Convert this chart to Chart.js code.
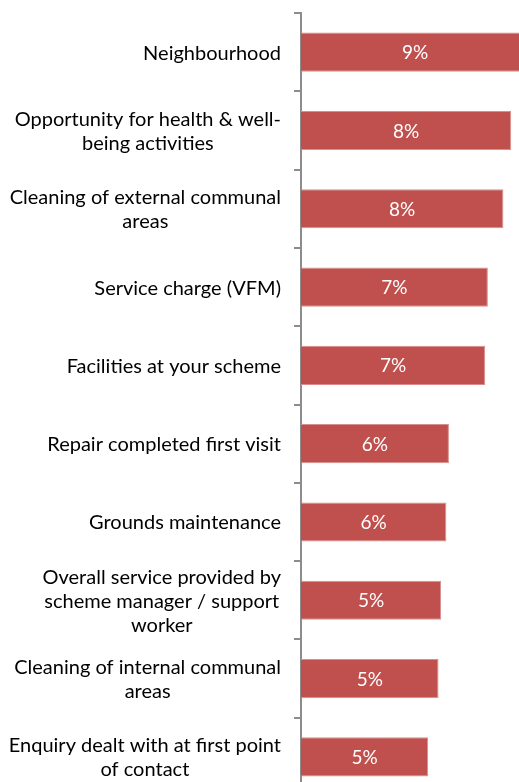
<!DOCTYPE html>
<html>
<head>
<meta charset="utf-8">
<script src="https://cdn.jsdelivr.net/npm/chart.js@4"></script>
<style>
  html, body { margin: 0; padding: 0; background: #fff; overflow: hidden; }
  #wrap { width: 519px; height: 800px; }
</style>
</head>
<body>
<div id="wrap"><canvas id="myChart" width="519" height="800"></canvas></div>
<script>
// 항목 이름 (줄바꿈은 배열로)
const categories = [
  ["Neighbourhood"],
  ["Opportunity for health & well-", "being activities"],
  ["Cleaning of external communal", "areas"],
  ["Service charge (VFM)"],
  ["Facilities at your scheme"],
  ["Repair completed first visit"],
  ["Grounds maintenance"],
  ["Overall service provided by", "scheme manager / support", "worker"],
  ["Cleaning of internal communal", "areas"],
  ["Enquiry dealt with at first point", "of contact"],
];
// 비율 (%)
const values = [8.8, 8.1, 7.8, 7.2, 7.1, 5.7, 5.6, 5.4, 5.3, 4.9];

const FONT = "Lato, 'Open Sans', sans-serif";
const AXIS_GREY = "#8c8c8c";

// 왼쪽 항목 라벨: 블록은 오른쪽 정렬, 각 줄은 가운데 정렬
const categoryLabels = {
  id: "categoryLabels",
  afterDraw(chart) {
    const { ctx, chartArea } = chart;
    const yScale = chart.scales.y;
    const lineH = 24;
    ctx.save();
    ctx.font = "20px " + FONT;
    ctx.fillStyle = "#000";
    ctx.textAlign = "center";
    ctx.textBaseline = "middle";
    categories.forEach((lines, i) => {
      const y = yScale.getPixelForTick(i) + 1;
      const maxW = Math.max(...lines.map((l) => ctx.measureText(l).width));
      const cx = chartArea.left - 20 - maxW / 2;
      lines.forEach((line, j) => {
        ctx.fillText(line, cx, y + (j - (lines.length - 1) / 2) * lineH);
      });
    });
    ctx.restore();
  },
};

// 막대 안쪽 퍼센트 라벨
const valueLabels = {
  id: "valueLabels",
  afterDatasetsDraw(chart) {
    const { ctx } = chart;
    const meta = chart.getDatasetMeta(0);
    ctx.save();
    ctx.font = "19px " + FONT;
    ctx.fillStyle = "#fff";
    ctx.textAlign = "center";
    ctx.textBaseline = "middle";
    meta.data.forEach((bar, i) => {
      const cx = (bar.x + bar.base) / 2;
      ctx.fillText(Math.round(values[i]) + "%", cx, bar.y + 1);
    });
    ctx.restore();
  },
};

const ctx = document.getElementById("myChart").getContext("2d");
const myChart = new Chart(ctx, {
  type: "bar",
  data: {
    labels: categories.map((l) => l.join(" ")),
    datasets: [
      {
        data: values,
        backgroundColor: "#c0504d",
        borderColor: "#d98e8c",
        borderWidth: 1,
        borderSkipped: "left",
        barPercentage: 0.5,
        categoryPercentage: 1,
      },
    ],
  },
  options: {
    indexAxis: "y",
    responsive: false,
    animation: false,
    layout: { padding: { top: 13, bottom: 4, left: 0, right: 0 } },
    scales: {
      x: {
        display: false,
        min: 0,
        max: 8.4,
      },
      y: {
        afterFit(scale) {
          scale.width = 301;
        },
        ticks: { display: false },
        grid: {
          drawOnChartArea: false,
          drawTicks: true,
          tickLength: 7,
          color: AXIS_GREY,
          lineWidth: 2,
        },
        border: { display: true, color: AXIS_GREY, width: 2 },
      },
    },
    plugins: {
      legend: { display: false },
      tooltip: { enabled: false },
    },
  },
  plugins: [categoryLabels, valueLabels],
});
</script>
</body>
</html>
